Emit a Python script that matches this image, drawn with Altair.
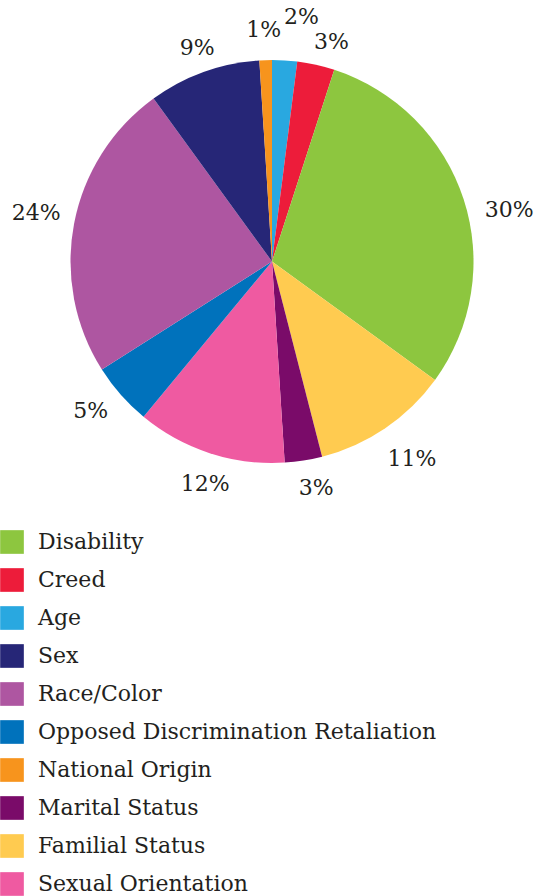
import altair as alt
import pandas as pd

# Slices in clockwise order starting from 12 o'clock
categories = ["Age", "Creed", "Disability", "Familial Status", "Marital Status",
              "Sexual Orientation", "Opposed Discrimination Retaliation",
              "Race/Color", "Sex", "National Origin"]
percents = [2, 3, 30, 11, 3, 12, 5, 24, 9, 1]

legend_order = ["Disability", "Creed", "Age", "Sex", "Race/Color",
                "Opposed Discrimination Retaliation", "National Origin",
                "Marital Status", "Familial Status", "Sexual Orientation"]
legend_colors = ["#8DC63F", "#ED1C3A", "#29A8E0", "#262677", "#AE56A1",
                 "#0072BC", "#F7941D", "#7A0B69", "#FFCB50", "#EF5AA1"]

df = pd.DataFrame({"category": categories, "value": percents,
                   "order": list(range(len(categories)))})
df["label"] = df["value"].astype(str) + "%"

FONT = "DejaVu Serif"
TXT = "#231F20"
CX, CY, R = 272, 261.5, 201.5

# label placement (radius from centre, pixel nudges) per slice
label_place = {
    "Age": (246, 14, 1),
    "Creed": (227, 10, 2),
    "Disability": (243, 6, 24),
    "Familial Status": (242, 4, -3),
    "Marital Status": (231, 8, -2),
    "Sexual Orientation": (232, 5, 2),
    "Opposed Discrimination Retaliation": (235, -5, -6),
    "Race/Color": (240, 0, -4),
    "Sex": (227, 2, 0),
    "National Origin": (232, -1, 0),
}

theta_scale = alt.Scale(domain=[0, 100])

base = alt.Chart(df)

pie = base.mark_arc(outerRadius=R, strokeWidth=0).encode(
    x=alt.value(CX), y=alt.value(CY),
    theta=alt.Theta("value:Q", stack=True, scale=theta_scale),
    color=alt.Color("category:N",
                    scale=alt.Scale(domain=legend_order, range=legend_colors),
                    legend=alt.Legend(orient="none", legendX=0, legendY=530,
                                      title=None, symbolType="square",
                                      symbolSize=560, symbolStrokeWidth=0,
                                      symbolOpacity=1,
                                      labelFont=FONT, labelFontSize=22,
                                      labelColor=TXT, labelOffset=14,
                                      labelLimit=600, rowPadding=14,
                                      padding=0)),
    order=alt.Order("order:Q"),
)

lbl_base = base.transform_window(
    cum="sum(value)", sort=[alt.SortField("order")], frame=[None, 0]
).transform_calculate(mid="datum.cum - datum.value / 2")

layers = [pie]
for cat, (rad, dx, dy) in label_place.items():
    layers.append(
        lbl_base.transform_filter(alt.datum.category == cat).mark_text(
            font=FONT, fontSize=22, color=TXT, dx=dx, dy=dy
        ).encode(
            x=alt.value(CX), y=alt.value(CY),
            theta=alt.Theta("mid:Q", stack=False, scale=theta_scale),
            radius=alt.value(rad),
            text="label:N",
        )
    )

chart = alt.layer(*layers).properties(
    width=539, height=896, padding=0, background="white",
    autosize=alt.AutoSizeParams(type="none"),
).configure_view(stroke=None)

chart.save("out.html", embed_options={"renderer": "svg", "actions": False})
